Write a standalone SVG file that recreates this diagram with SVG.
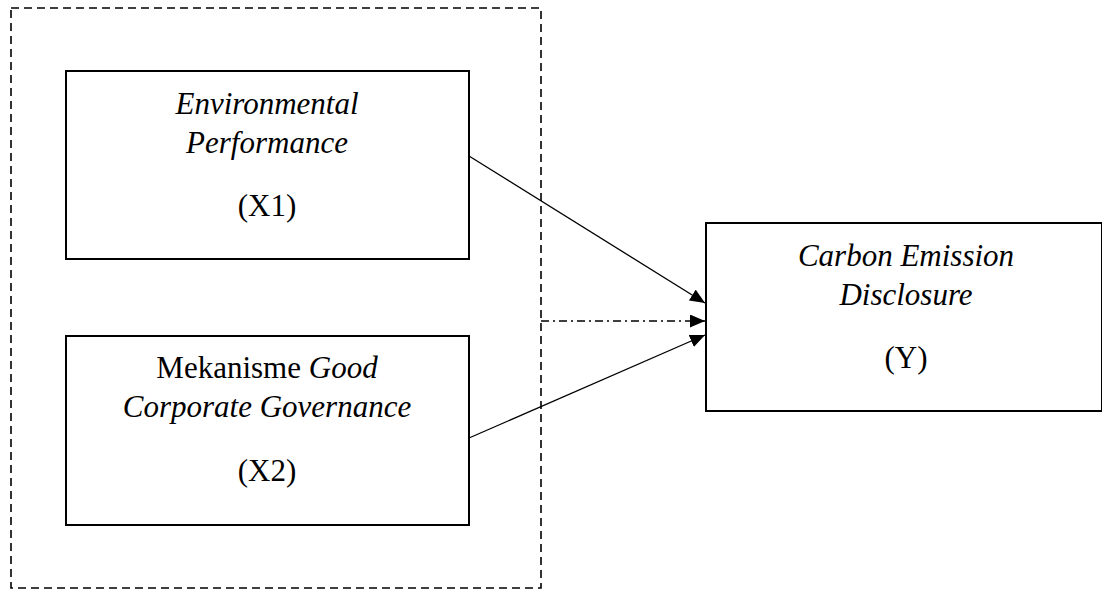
<svg xmlns="http://www.w3.org/2000/svg" width="1102" height="589" viewBox="0 0 1102 589">
<style>
.box{fill:#fff;stroke:#000;stroke-width:2}
.t{font-family:"Liberation Serif","Times New Roman",serif;font-size:31px;fill:#000;text-anchor:middle}
.i{font-style:italic}
.c{stroke:#000;stroke-width:1.3;fill:none}
</style>
<defs>
<marker id="ah" viewBox="0 0 15 13" refX="15" refY="6.5" markerWidth="15" markerHeight="13" markerUnits="userSpaceOnUse" orient="auto">
<path d="M0,0 L15,6.5 L0,13 Z" fill="#000"/>
</marker>
</defs>
<g id="frame">
<rect x="11" y="8" width="530" height="580" fill="none" stroke="#000" stroke-width="1.6" stroke-dasharray="8,5"/>
</g>
<g id="x1">
<rect class="box" x="66" y="71" width="403" height="188"/>
<text class="t i" x="267" y="114">Environmental</text>
<text class="t i" x="267" y="153">Performance</text>
<text class="t" x="267" y="216">(X1)</text>
</g>
<g id="x2">
<rect class="box" x="66" y="336" width="403" height="189"/>
<text class="t" x="267" y="378">Mekanisme <tspan class="i">Good</tspan></text>
<text class="t i" x="267" y="417">Corporate Governance</text>
<text class="t" x="267" y="481">(X2)</text>
</g>
<g id="y">
<rect class="box" x="706" y="223" width="396" height="188"/>
<text class="t i" x="906" y="266">Carbon Emission</text>
<text class="t i" x="906" y="305">Disclosure</text>
<text class="t" x="906" y="368">(Y)</text>
</g>
<g id="connectors">
<line class="c" x1="469" y1="156" x2="705" y2="303" marker-end="url(#ah)"/>
<line class="c" x1="541" y1="321" x2="705" y2="321" stroke-dasharray="8,4,2,4" marker-end="url(#ah)"/>
<line class="c" x1="469" y1="438" x2="705" y2="335" marker-end="url(#ah)"/>
</g>
</svg>
